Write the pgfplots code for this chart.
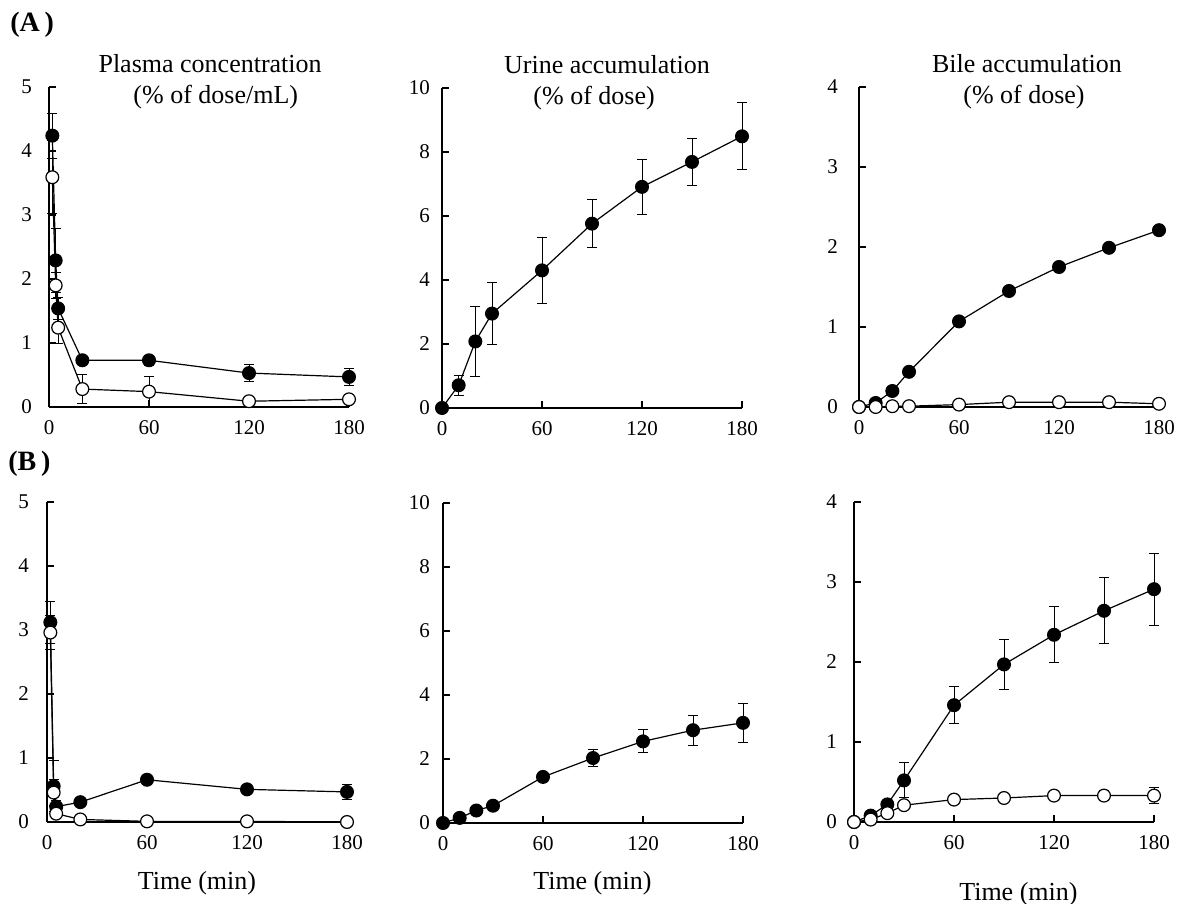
\documentclass[border=0pt]{standalone}
\usepackage{fontspec}
\setmainfont{Liberation Serif}
\usepackage{pgfplots}
\pgfplotsset{compat=1.18}
\pgfplotsset{
 panel/.style={
  scale only axis, width=150pt, height=160pt,
  anchor=south west,
  axis x line=bottom, axis y line=left,
  axis line style={line width=0.75pt,-},
  tick align=inside,
  major tick length=3.5pt,
  tick style={line width=0.7pt, black},
  xmin=0,xmax=180, xtick={0,60,120,180},
  ymin=0,
  tick label style={font=\fontsize{10.5}{12}\selectfont},
  /pgf/number format/assume math mode=true,
  clip=false,
  xticklabel style={yshift=-3pt},
 },
 sfill/.style={black, line width=0.6pt, mark=*, mark size=3.2pt,
   mark options={fill=black, solid},
   error bars/.cd, y dir=both, y explicit,
   error bar style={line width=0.5pt},
   error mark options={rotate=90, mark size=2.5pt, line width=0.5pt}},
 sopen/.style={black, line width=0.6pt, mark=*, mark size=3.2pt,
   mark options={fill=white, solid},
   error bars/.cd, y dir=both, y explicit,
   error bar style={line width=0.5pt},
   error mark options={rotate=90, mark size=2.5pt, line width=0.5pt}},
}
\newcommand{\tf}{\fontsize{13}{15}\selectfont}
\begin{document}
\begin{tikzpicture}
\useasboundingbox (0,0) rectangle (588.5pt,452pt);
\node[anchor=base west, font=\bfseries\fontsize{14}{16}\selectfont, inner sep=0pt] at (5pt,436pt) {(A\,)};
\node[anchor=base west, font=\bfseries\fontsize{14}{16}\selectfont, inner sep=0pt] at (4pt,216.5pt) {(B\,)};

% A1 plasma
\begin{axis}[panel, at={(24.5pt,248.5pt)}, ymax=5, ytick={0,1,2,3,4,5}, yticklabel style={xshift=-5pt}]
\addplot[sfill] coordinates {(2,4.24)+-(0,0.35) (4,2.29)+-(0,0.5) (5.5,1.54)+-(0,0.17) (20,0.73)+-(0,0.05) (60,0.73)+-(0,0.08) (120,0.53)+-(0,0.13) (180,0.47)+-(0,0.13)};
\addplot[sopen] coordinates {(2,3.59)+-(0,0.57) (4,1.90)+-(0,0.2) (5.5,1.24)+-(0,0.25) (20,0.28)+-(0,0.22) (60,0.24)+-(0,0.24) (120,0.09)+-(0,0.03) (180,0.12)+-(0,0.03)};
\node[anchor=base, font=\tf, yshift=7pt] at (rel axis cs:0.537,1) {Plasma concentration};
\node[anchor=base, font=\tf, yshift=-8.5pt] at (rel axis cs:0.556,1) {(\% of dose/mL)};
\end{axis}

% A2 urine
\begin{axis}[panel, at={(221pt,248pt)}, ymax=10, ytick={0,2,4,6,8,10}, yticklabel style={xshift=-2.5pt}]
\addplot[sfill] coordinates {(0,0)+-(0,0) (10,0.71)+-(0,0.31) (20,2.08)+-(0,1.1) (30,2.95)+-(0,0.97) (60,4.30)+-(0,1.03) (90,5.76)+-(0,0.75) (120,6.91)+-(0,0.85) (150,7.69)+-(0,0.73) (180,8.49)+-(0,1.05)};
\node[anchor=base, font=\tf, yshift=7pt] at (rel axis cs:0.55,1) {Urine accumulation};
\node[anchor=base, font=\tf, yshift=-8.5pt] at (rel axis cs:0.507,1) {(\% of dose)};
\end{axis}

% A3 bile
\begin{axis}[panel, at={(429.5pt,248.5pt)}, ymax=4, ytick={0,1,2,3,4}, yticklabel style={xshift=-7pt}]
\addplot[sfill] coordinates {(0,0)+-(0,0) (10,0.05)+-(0,0.02) (20,0.20)+-(0,0.02) (30,0.44)+-(0,0.02) (60,1.07)+-(0,0.03) (90,1.45)+-(0,0.03) (120,1.75)+-(0,0.03) (150,1.99)+-(0,0.03) (180,2.21)+-(0,0.03)};
\addplot[sopen] coordinates {(0,0)+-(0,0) (10,0.0)+-(0,0.01) (20,0.01)+-(0,0.01) (30,0.01)+-(0,0.01) (60,0.03)+-(0,0.02) (90,0.06)+-(0,0.03) (120,0.06)+-(0,0.04) (150,0.06)+-(0,0.03) (180,0.04)+-(0,0.04)};
\node[anchor=base, font=\tf, yshift=7pt] at (rel axis cs:0.56,1) {Bile accumulation};
\node[anchor=base, font=\tf, yshift=-8.5pt] at (rel axis cs:0.55,1) {(\% of dose)};
\end{axis}

% B1 plasma
\begin{axis}[panel, at={(23.5pt,41pt)}, ymax=5, ytick={0,1,2,3,4,5}, yticklabel style={xshift=-5.5pt}]
\addplot[sfill] coordinates {(2,3.12)+-(0,0.33) (4,0.56)+-(0,0.4) (5.5,0.24)+-(0,0.1) (20,0.31)+-(0,0.05) (60,0.66)+-(0,0.05) (120,0.51)+-(0,0.05) (180,0.47)+-(0,0.12)};
\addplot[sopen] coordinates {(2,2.96)+-(0,0.27) (4,0.46)+-(0,0.2) (5.5,0.13)+-(0,0.05) (20,0.04)+-(0,0.03) (60,0.01)+-(0,0.06) (120,0.01)+-(0,0.06) (180,0.0)+-(0,0.07)};
\node[anchor=base, font=\tf, yshift=-33.5pt] at (rel axis cs:0.5,0) {Time (min)};
\end{axis}

% B2 urine
\begin{axis}[panel, at={(221.5pt,40.5pt)}, ymax=10, ytick={0,2,4,6,8,10}, yticklabel style={xshift=-3pt}]
\addplot[sfill] coordinates {(0,0)+-(0,0) (10,0.16)+-(0,0.02) (20,0.39)+-(0,0.03) (30,0.54)+-(0,0.05) (60,1.44)+-(0,0.15) (90,2.03)+-(0,0.28) (120,2.55)+-(0,0.36) (150,2.90)+-(0,0.47) (180,3.13)+-(0,0.6)};
\node[anchor=base, font=\tf, yshift=-33pt] at (rel axis cs:0.498,0) {Time (min)};
\end{axis}

% B3 bile
\begin{axis}[panel, at={(427pt,41pt)}, ymax=4, ytick={0,1,2,3,4}, yticklabel style={xshift=-5pt}]
\addplot[sfill] coordinates {(0,0)+-(0,0) (10,0.08)+-(0,0.02) (20,0.22)+-(0,0.03) (30,0.52)+-(0,0.22) (60,1.46)+-(0,0.23) (90,1.97)+-(0,0.31) (120,2.34)+-(0,0.35) (150,2.64)+-(0,0.41) (180,2.91)+-(0,0.45)};
\addplot[sopen] coordinates {(0,0)+-(0,0) (10,0.03)+-(0,0.01) (20,0.11)+-(0,0.02) (30,0.21)+-(0,0.03) (60,0.28)+-(0,0.05) (90,0.30)+-(0,0.04) (120,0.33)+-(0,0.05) (150,0.33)+-(0,0.06) (180,0.33)+-(0,0.1)};
\node[anchor=base, font=\tf, yshift=-39pt] at (rel axis cs:0.548,0) {Time (min)};
\end{axis}
\end{tikzpicture}
\end{document}
